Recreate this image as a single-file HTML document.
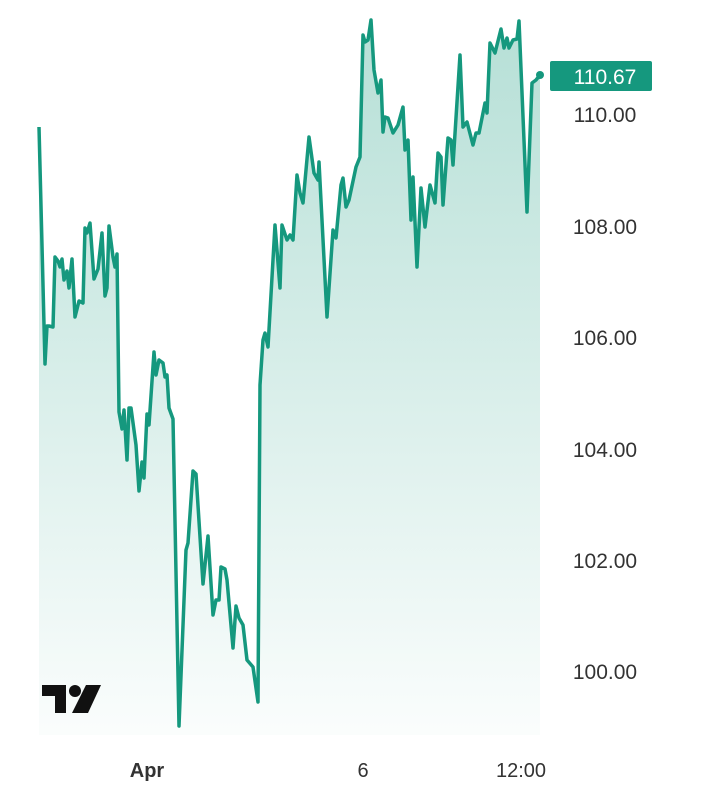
<!DOCTYPE html>
<html><head><style>
body{margin:0;background:#fff;width:702px;height:800px;overflow:hidden;font-family:"Liberation Sans",sans-serif;}
</style></head><body>
<svg width="702" height="800" xmlns="http://www.w3.org/2000/svg">
<defs><linearGradient id="g" x1="0" y1="0" x2="0" y2="1">
<stop offset="0" stop-color="#1a9c80" stop-opacity="0.32"/>
<stop offset="1" stop-color="#1a9c80" stop-opacity="0.02"/>
</linearGradient></defs>
<polygon fill="url(#g)" points="39,735 39,127 45,364 47,326 49,326 53,327 55,257 58,261 60,267 62,259 64,280 67,271 69,288 72,259 75,317 79,301 83,303 85,228 87,233 90,223 94,279 98,269 102,233 105,296 107,288 109,226 113,257 115,267 117,254 119,412 122,429 124,410 127,460 129,408 131,408 136,445 139,491 142,462 144,478 147,414 149,425 154,352 156,375 159,360 163,363 165,377 167,375 169,408 173,419 179,726 186,550 188,543 193,471 196,474 203,584 208,536 213,615 216,600 219,600 221,567 225,569 227,580 233,648 236,606 239,618 243,625 247,660 253,667 258,702 260,385 263,340 265,333 268,347 275,225 280,288 282,225 287,240 290,235 293,240 297,175 300,193 303,203 309,137 314,173 318,180 319,162 327,317 333,230 336,238 341,185 343,178 346,207 349,200 356,167 360,157 363,35 365,42 368,40 371,20 374,70 378,93 381,80 383,132 385,117 388,118 393,133 398,125 403,107 405,150 408,140 411,220 413,177 417,267 421,188 425,227 430,185 435,203 438,153 441,157 443,205 448,138 451,140 453,165 460,55 463,127 467,122 473,145 476,133 479,133 485,103 487,113 490,43 495,53 501,29 504,48 507,38 509,48 513,40 517,39 519,21 527,212 532,83 536,80 540,75 540,735"/>
<polyline fill="none" stroke="#15987e" stroke-width="3.5" stroke-linejoin="round" points="39,127 45,364 47,326 49,326 53,327 55,257 58,261 60,267 62,259 64,280 67,271 69,288 72,259 75,317 79,301 83,303 85,228 87,233 90,223 94,279 98,269 102,233 105,296 107,288 109,226 113,257 115,267 117,254 119,412 122,429 124,410 127,460 129,408 131,408 136,445 139,491 142,462 144,478 147,414 149,425 154,352 156,375 159,360 163,363 165,377 167,375 169,408 173,419 179,726 186,550 188,543 193,471 196,474 203,584 208,536 213,615 216,600 219,600 221,567 225,569 227,580 233,648 236,606 239,618 243,625 247,660 253,667 258,702 260,385 263,340 265,333 268,347 275,225 280,288 282,225 287,240 290,235 293,240 297,175 300,193 303,203 309,137 314,173 318,180 319,162 327,317 333,230 336,238 341,185 343,178 346,207 349,200 356,167 360,157 363,35 365,42 368,40 371,20 374,70 378,93 381,80 383,132 385,117 388,118 393,133 398,125 403,107 405,150 408,140 411,220 413,177 417,267 421,188 425,227 430,185 435,203 438,153 441,157 443,205 448,138 451,140 453,165 460,55 463,127 467,122 473,145 476,133 479,133 485,103 487,113 490,43 495,53 501,29 504,48 507,38 509,48 513,40 517,39 519,21 527,212 532,83 536,80 540,75"/>
<circle cx="540" cy="75" r="4" fill="#15987e"/>
<rect x="550" y="61" width="102" height="30" rx="2" fill="#15987e"/>
<text x="605" y="84" fill="#fff" font-size="21" text-anchor="middle">110.67</text>
<g fill="#333" font-size="21" text-anchor="middle">
<text x="605" y="122">110.00</text>
<text x="605" y="234">108.00</text>
<text x="605" y="345">106.00</text>
<text x="605" y="457">104.00</text>
<text x="605" y="568">102.00</text>
<text x="605" y="679">100.00</text>
</g>
<g fill="#333" font-size="20" text-anchor="middle">
<text x="147" y="777" font-weight="bold">Apr</text>
<text x="363" y="777">6</text>
<text x="521" y="777">12:00</text>
</g>
<g fill="#111">
<path d="M42,685 H66 V713 H55 V696 H42 Z"/>
<circle cx="75" cy="691" r="6"/>
<path d="M86,685 H101 L88,713 H72 Z"/>
</g>
</svg>
</body></html>
